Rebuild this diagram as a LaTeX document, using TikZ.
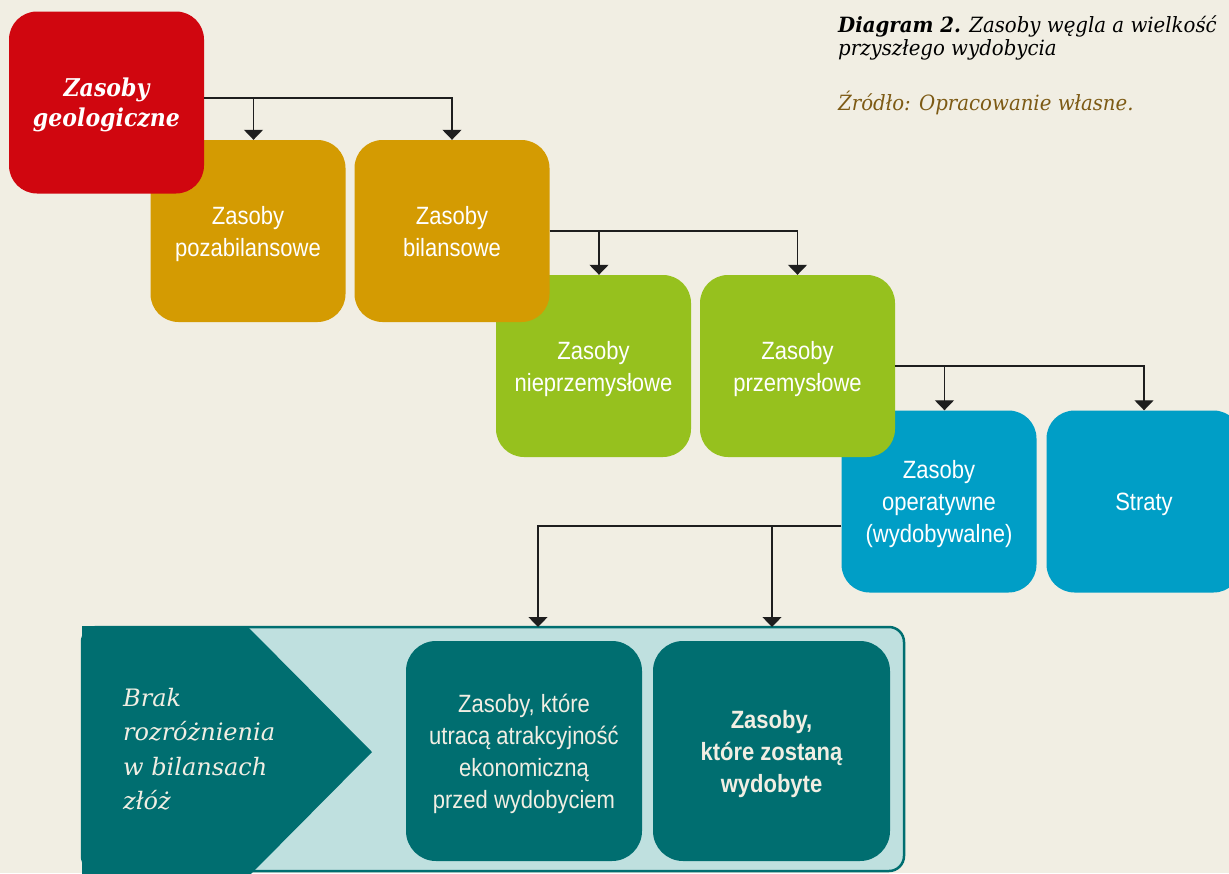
\documentclass[tikz,border=0pt]{standalone}
\usepackage{fontspec}
\setmainfont{DejaVu Serif}
\newfontfamily\capfont[FakeStretch=0.94]{DejaVu Serif}
\newfontfamily\geofont[FakeStretch=0.9]{DejaVu Serif}
\newfontfamily\boxfont[FakeStretch=0.88]{Liberation Sans}
\usetikzlibrary{arrows.meta,calc}
\definecolor{paper}{RGB}{241,238,227}
\definecolor{geored}{RGB}{208,6,15}
\definecolor{bilorange}{RGB}{212,155,2}
\definecolor{przgreen}{RGB}{150,193,30}
\definecolor{operblue}{RGB}{0,158,198}
\definecolor{deepteal}{RGB}{0,110,112}
\definecolor{paleteal}{RGB}{191,224,223}
\definecolor{cream}{RGB}{241,238,227}
\definecolor{srcbrown}{RGB}{125,90,20}
\definecolor{linegray}{RGB}{30,30,30}

\begin{document}
\begin{tikzpicture}[x=1pt,y=-1pt,
	box/.style={rounded corners=28pt, minimum width=195pt, minimum height=182pt, inner sep=0pt,
		align=center, text=white, text depth=0pt, font=\boxfont\fontsize{25}{32}\selectfont},
	arr/.style={-{Triangle[width=19pt,length=10pt]}, line width=1.3pt, draw=linegray}]
			%%%%% START %%%%%
			\def\picw{1229}
			\def\pich{873}
			\def\rowa{231}
			\def\rowb{366}
			\def\rowc{501.5}
			\def\nudge{5.5pt}

			\useasboundingbox[fill=paper] (0,0) rectangle (\picw,\pich);

			% caption
			\node[anchor=base west, align=left, inner sep=0pt, text=black, font=\capfont\itshape\fontsize{21}{23}\selectfont]
				(caption) at (838,55) {\textbf{Diagram 2.} Zasoby węgla a wielkość\\przyszłego wydobycia};
			\node[anchor=base west, inner sep=0pt, text=srcbrown, font=\capfont\itshape\fontsize{21}{23}\selectfont]
				(source) at (838,110) {Źródło: Opracowanie własne.};

			% boxes, back to front
			\node[box,fill=operblue] (straty) at (1144,\rowc) {Straty};
			\node[box,fill=operblue] (oper) at (939,\rowc) {Zasoby\\operatywne\\(wydobywalne)};
			\node[box,fill=przgreen] (prz) at (797.5,\rowb) {Zasoby\\przemysłowe};
			\node[box,fill=przgreen] (nieprz) at (593.5,\rowb) {Zasoby\\nieprzemysłowe};
			\node[box,fill=bilorange] (bil) at (452,\rowa) {Zasoby\\bilansowe};
			\node[box,fill=bilorange] (pozabil) at (248,\rowa) {Zasoby\\pozabilansowe};
			\node[box,fill=geored,font=\geofont\bfseries\itshape\fontsize{24.5}{30}\selectfont] (geo) at (106.5,102.5) {Zasoby\\geologiczne};

			\draw[arr] ([yshift=4.5pt]geo.east) -| (bil.north);
			\draw[arr] ([yshift=4.5pt,xshift=\nudge]geo.east -| pozabil.north) -- ([xshift=\nudge]pozabil.north);
			\draw[arr] (bil.east) -| (prz.north);
			\draw[arr] ([xshift=\nudge]bil.east -| nieprz.north) -- ([xshift=\nudge]nieprz.north);
			\draw[arr] (prz.east) -| (straty.north);
			\draw[arr] ([xshift=\nudge]prz.east -| oper.north) -- ([xshift=\nudge]oper.north);

			% bottom panel
			\node[draw=deepteal, fill=paleteal, line width=2.5pt, rounded corners=15pt,
				minimum width=822pt, minimum height=244pt, inner sep=0pt] (panel) at (493,749) {};
			\fill[deepteal] (82,626) -- (247,626) -- (372,752) -- (247,878) -- (82,878) -- cycle;
			\node[anchor=west, align=left, inner sep=0pt, text=cream, font=\itshape\fontsize{24}{34.5}\selectfont]
				(nodiff) at (123,749) {Brak\\rozróżnienia\\w bilansach\\złóż};

			\node[box,fill=deepteal,text=cream,minimum width=236pt,minimum height=220pt,rounded corners=30pt]
				(lost) at (524,751) {Zasoby, które\\utracą atrakcyjność\\ekonomiczną\\przed wydobyciem};
			\node[box,fill=deepteal,text=cream,minimum width=237pt,minimum height=220pt,rounded corners=30pt,
				font=\boxfont\bfseries\fontsize{25}{32}\selectfont]
				(mined) at (771.5,751) {Zasoby,\\które zostaną\\wydobyte};

			\coordinate (split) at ($(oper.west)+(0,24.5)$);
			\coordinate (lostin) at (538,627);
			\coordinate (minedin) at (772,627);
			\draw[arr] (split) -| (lostin);
			\draw[arr] (split -| minedin) -- (minedin);
			%%%%% END %%%%%
\end{tikzpicture}
\end{document}
